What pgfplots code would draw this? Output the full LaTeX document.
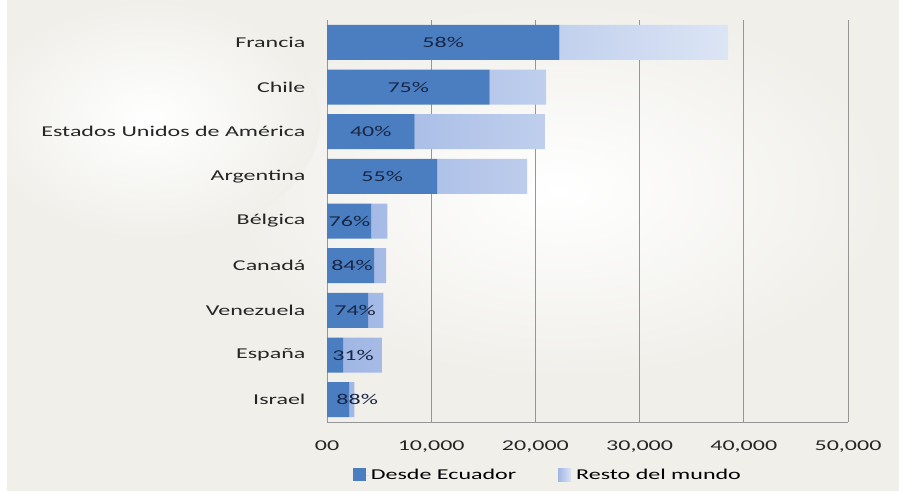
\documentclass[border=0pt]{standalone}
\usepackage{pgfplots}
\usepackage{pgfplotstable}
\pgfplotsset{compat=1.18}
\usepackage{fontspec}
\setmainfont{Carlito}[FakeStretch=1.6]

\definecolor{ecuador}{RGB}{74,126,192}
\definecolor{restoA}{RGB}{160,182,228}
\definecolor{restoB}{RGB}{220,229,245}
\definecolor{gridc}{RGB}{150,150,150}
\definecolor{bgc}{RGB}{240,239,234}
\definecolor{pctc}{RGB}{25,38,70}

% ec = desde Ecuador, resto = resto del mundo, lx = posicion de la etiqueta
\pgfplotstableread{
idx ec resto pct lx
0 22300 16200 58 11150
1 15600 5430 75 7800
2 8400 12500 40 4200
3 10600 8600 55 5300
4 4250 1550 76 2150
5 4550 1120 84 2400
6 3950 1470 74 2700
7 1550 3710 31 2500
8 2150 480 88 2900
}\data

\pgfplotsset{
  base/.style={
    at={(327pt,-20pt)}, anchor=north west,
    width=521pt, height=402pt, scale only axis,
    xmin=0, xmax=50000, ymin=-0.5, ymax=8.5,
    y dir=reverse, scaled x ticks=false,
  },
}

\begin{document}
\begin{tikzpicture}
\path[use as bounding box] (0,0) rectangle (899pt,-491pt);
\begin{scope}
\clip (7pt,0) rectangle (899pt,-491pt);
\fill[bgc] (7pt,0) rectangle (899pt,-491pt);
\shade[inner color=white, outer color=bgc] (560pt,-190pt) ellipse (330pt and 190pt);
\shade[inner color=white, outer color=bgc] (150pt,-120pt) ellipse (170pt and 120pt);
\end{scope}

\begin{axis}[base,
  xbar stacked, bar width=35pt,
  font=\fontsize{15}{18}\selectfont,
  axis x line*=bottom, axis y line*=left,
  axis line style={draw=gridc, line width=1pt},
  xmajorgrids, major grid style={draw=gridc, line width=1pt},
  major tick length=0pt,
  xtick={0,10000,20000,30000,40000,50000},
  xticklabels={00,{10,000},{20,000},{30,000},{40,000},{50,000}},
  ytick=data,
  yticklabels={Francia,Chile,Estados Unidos de América,Argentina,Bélgica,Canadá,Venezuela,España,Israel},
  xticklabel style={yshift=-15pt, text=black!85},
  yticklabel style={xshift=-18pt, text=black!85},
  legend style={draw=none, fill=none, at={(0.424,-0.132)}, anchor=center,
    legend columns=2, /tikz/every even column/.append style={column sep=40pt},
    font=\fontsize{15}{18}\selectfont},
  legend image code/.code={\fill[#1] (0pt,-6pt) rectangle (13pt,7pt);
    \path (13pt,0pt) -- (16pt,0pt);},
]
\addplot[draw=none, fill=ecuador] table[x=ec, y=idx] {\data};
\addlegendentry{Desde Ecuador}
\addplot[draw=none, left color=restoA, right color=restoB] table[x=resto, y=idx] {\data};
\addlegendentry{Resto del mundo}
\end{axis}

\begin{axis}[base, hide axis]
\addplot[draw=none, mark=none, point meta=explicit symbolic,
  nodes near coords={\pgfplotspointmeta\%},
  nodes near coords style={anchor=center, text=pctc, font=\fontsize{15}{18}\selectfont}]
  table[x=lx, y=idx, meta=pct] {\data};
\end{axis}
\end{tikzpicture}
\end{document}
